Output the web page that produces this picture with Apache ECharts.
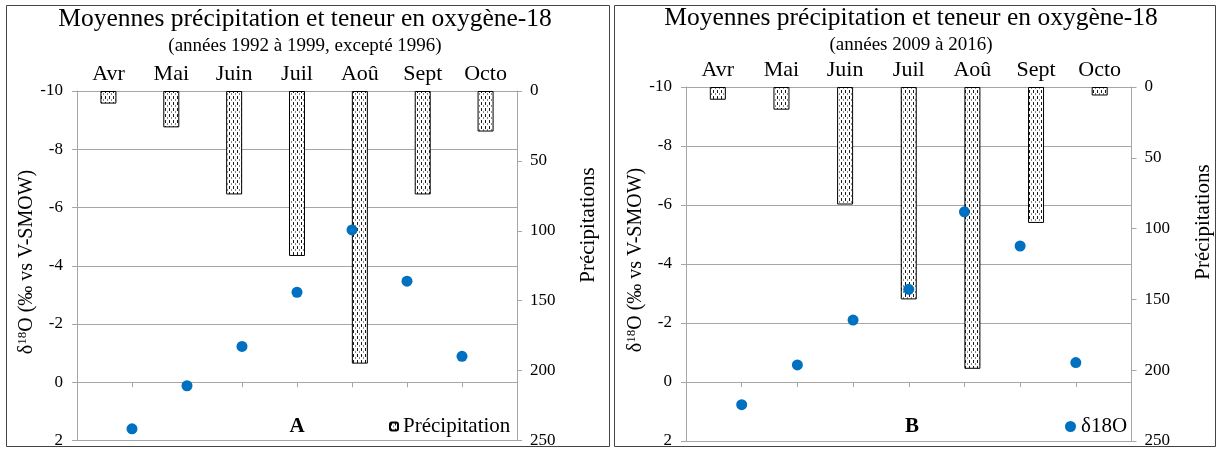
<!DOCTYPE html>
<html>
<head>
<meta charset="utf-8">
<script src="https://cdn.jsdelivr.net/npm/echarts@6/dist/echarts.min.js"></script>
<style>html,body{margin:0;padding:0;background:#fff}#c{width:1218px;height:450px}</style>
</head>
<body>
<div id="c"></div>
<script>
// ---- data ----
const months = ['Avr', 'Mai', 'Juin', 'Juil', 'Aoû', 'Sept', 'Octo'];
const monthPos = [1, 2, 3, 4, 5, 6, 7];
const precipA = [9, 26, 74, 118, 195, 74, 29];
const d18oA = [1.6, 0.12, -1.23, -3.09, -5.23, -3.47, -0.89];
const precipB = [9, 16, 83, 150, 199, 96, 6];
const d18oB = [0.77, -0.58, -2.1, -3.14, -5.77, -4.61, -0.66];
const titleText = 'Moyennes précipitation et teneur en oxygène-18';
const subtitleA = '(années 1992 à 1999, excepté 1996)';
const subtitleB = '(années 2009 à 2016)';

const SERIF = '"Liberation Serif", "DejaVu Serif", serif';
const GRID_C = '#a6a6a6';

function makePattern() {
  const c = document.createElement('canvas');
  c.width = 4; c.height = 6;
  const g = c.getContext('2d');
  g.fillStyle = '#ffffff'; g.fillRect(0, 0, 4, 6);
  g.fillStyle = '#1a1a1a'; g.fillRect(1, 0, 1, 3);
  g.fillStyle = '#8a8a8a'; g.fillRect(3, 3, 1, 2);
  return c;
}
const pat = { image: makePattern(), repeat: 'repeat' };

const chart = echarts.init(document.getElementById('c'), null, { renderer: 'canvas' });

const grids = [
  { left: 77, right: 701, top: 91, bottom: 9.5, outerBoundsMode: 'none' },
  { left: 686, right: 86.5, top: 87, bottom: 9, outerBoundsMode: 'none' }
];

function catAxis(gi) {
  return {
    type: 'category', gridIndex: gi, position: 'top', data: months,
    axisLine: { show: true, onZero: false, lineStyle: { color: GRID_C } },
    axisTick: { show: false },
    axisLabel: { color: '#000', fontFamily: SERIF, fontSize: 22, margin: 6 },
    splitLine: { show: false }
  };
}
function valXAxis(gi, yIdx) {
  return {
    type: 'value', gridIndex: gi, position: 'bottom', min: 0, max: 8, interval: 1,
    axisLine: { show: true, onZero: true, onZeroAxisIndex: yIdx, lineStyle: { color: GRID_C } },
    axisTick: { show: true, length: 5, inside: false, lineStyle: { color: GRID_C } },
    axisLabel: { show: false },
    splitLine: { show: false }
  };
}
function leftAxis(gi) {
  return {
    type: 'value', gridIndex: gi, position: 'left', inverse: true,
    min: -10, max: 2, interval: 2,
    axisLine: { show: true, onZero: false, lineStyle: { color: GRID_C } },
    axisTick: { show: true, length: 5, lineStyle: { color: GRID_C } },
    axisLabel: { color: '#000', fontFamily: SERIF, fontSize: 17, margin: 14 },
    splitLine: { show: true, lineStyle: { color: GRID_C, width: 1 } }
  };
}
function rightAxis(gi) {
  return {
    type: 'value', gridIndex: gi, position: 'right', inverse: true,
    min: 0, max: 250, interval: 50,
    axisLine: { show: true, onZero: false, lineStyle: { color: GRID_C } },
    axisTick: { show: true, length: 5, lineStyle: { color: GRID_C } },
    axisLabel: { color: '#000', fontFamily: SERIF, fontSize: 17, margin: 13 },
    splitLine: { show: false }
  };
}

function barSeries(xi, yi, data) {
  return {
    name: 'Précipitation', type: 'bar', xAxisIndex: xi, yAxisIndex: yi,
    data: data, barWidth: 16,
    itemStyle: { color: pat, borderColor: '#000', borderWidth: 1 },
    z: 2
  };
}
function dotSeries(xi, yi, data) {
  return {
    name: 'δ18O', type: 'scatter', xAxisIndex: xi, yAxisIndex: yi,
    data: monthPos.map((p, i) => [p, data[i]]),
    symbolSize: 11, itemStyle: { color: '#0070c0', opacity: 1 }, z: 3
  };
}

function txt(x, y, text, font) {
  return {
    type: 'text', x: x, y: y, silent: true,
    style: { text: text, font: font, fill: '#000', align: 'center', verticalAlign: 'middle' }
  };
}
function yTitle(x, y) {
  return {
    type: 'text', x: x, y: y, rotation: Math.PI / 2, silent: true,
    style: {
      text: '{a|δ}{s|18}{a|O (‰ vs V-SMOW)}',
      align: 'center', verticalAlign: 'middle', fill: '#000',
      rich: {
        a: { fontFamily: SERIF, fontSize: 20, fill: '#000' },
        s: { fontFamily: SERIF, fontSize: 13, fill: '#000', padding: [0, 0, 8, 0] }
      }
    }
  };
}
function rTitle(x, y) {
  return {
    type: 'text', x: x, y: y, rotation: Math.PI / 2, silent: true,
    style: { text: 'Précipitations', font: '21px ' + SERIF, fill: '#000', align: 'center', verticalAlign: 'middle' }
  };
}

const option = {
  animation: false,
  backgroundColor: '#fff',
  grid: grids,
  xAxis: [catAxis(0), valXAxis(0, 0), catAxis(1), valXAxis(1, 2)],
  yAxis: [leftAxis(0), rightAxis(0), leftAxis(1), rightAxis(1)],
  legend: [
    { data: ['Précipitation'], left: 384, top: 411, itemWidth: 8, itemHeight: 8, selectedMode: false,
      textStyle: { fontFamily: SERIF, fontSize: 21, color: '#000' }, itemGap: 4 },
    { data: [{ name: 'δ18O', icon: 'circle' }], left: 1060, top: 411, itemWidth: 11, itemHeight: 11, selectedMode: false,
      textStyle: { fontFamily: SERIF, fontSize: 21, color: '#000' } }
  ],
  series: [
    barSeries(0, 1, precipA), dotSeries(1, 0, d18oA),
    barSeries(2, 3, precipB), dotSeries(3, 2, d18oB)
  ],
  graphic: [
    { type: 'rect', shape: { x: 6.5, y: 5.5, width: 603, height: 441 }, style: { fill: 'none', stroke: '#444', lineWidth: 1 }, silent: true },
    { type: 'rect', shape: { x: 614.5, y: 5.5, width: 601, height: 441 }, style: { fill: 'none', stroke: '#444', lineWidth: 1 }, silent: true },
    txt(305, 19, titleText, '25.5px ' + SERIF),
    txt(305, 46, subtitleA, '19px ' + SERIF),
    txt(911, 18, titleText, '25.5px ' + SERIF),
    txt(911, 45, subtitleB, '19px ' + SERIF),
    yTitle(27, 262),
    yTitle(636, 260),
    rTitle(588, 225),
    rTitle(1203, 222),
    txt(297, 427, 'A', 'bold 21px ' + SERIF),
    txt(912, 427, 'B', 'bold 21px ' + SERIF)
  ]
};
chart.setOption(option);
</script>
</body>
</html>
